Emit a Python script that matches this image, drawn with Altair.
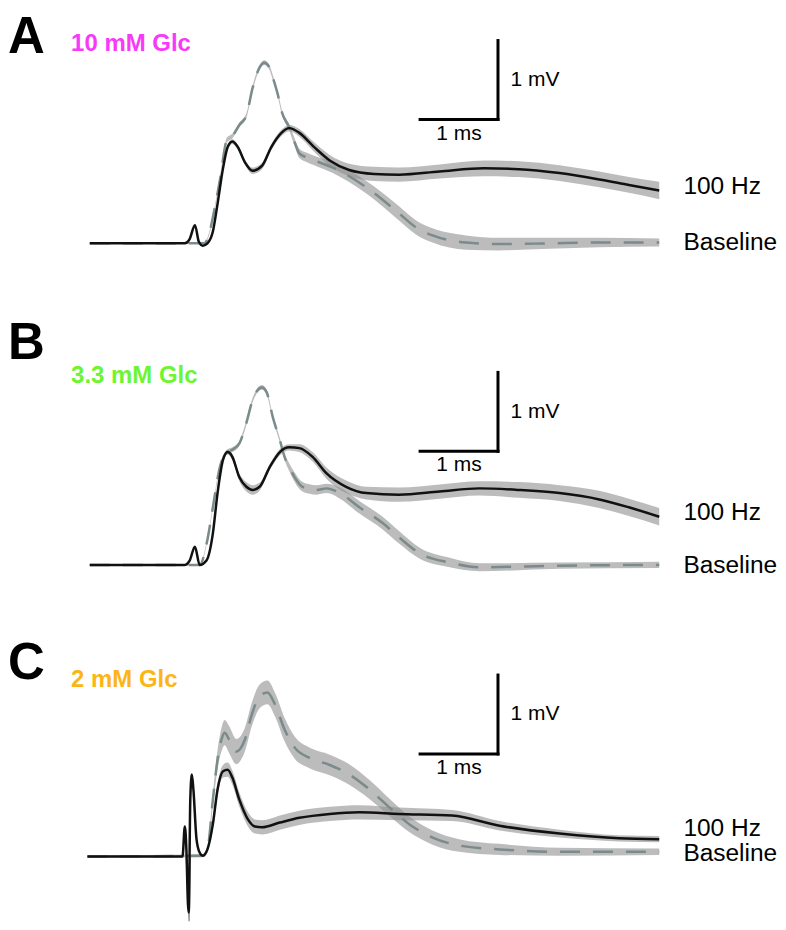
import altair as alt
import pandas as pd

# ---------------- data (time in ms, voltage in mV) ----------------
# Panel A : 10 mM Glc
tA_hz = [0, 1.22, 1.28, 1.35, 1.40, 1.45, 1.51, 1.58, 1.64, 1.71, 1.77, 1.83, 1.90, 1.99, 2.09, 2.21,
         2.33, 2.46, 2.56, 2.69, 2.88, 3.08, 3.33, 3.65, 3.97, 4.49, 5.06, 5.51, 6.03, 6.54, 6.92, 7.31]
vA_hz = [0, 0, 0.05, 0.23, 0.02, -0.03, 0.0, 0.15, 0.5, 0.95, 1.22, 1.29, 1.22, 1.03, 0.92, 0.98,
         1.22, 1.40, 1.46, 1.40, 1.22, 1.05, 0.93, 0.88, 0.87, 0.91, 0.95, 0.94, 0.89, 0.81, 0.74, 0.67]
sA_hz = [0.01, 0.01, 0.01, 0.01, 0.01, 0.01, 0.01, 0.02, 0.03, 0.03, 0.03, 0.03, 0.03, 0.03, 0.04, 0.04,
         0.04, 0.04, 0.04, 0.05, 0.06, 0.07, 0.08, 0.09, 0.09, 0.09, 0.10, 0.10, 0.10, 0.10, 0.10, 0.11]
tA_bl = [0, 1.40, 1.47, 1.54, 1.58, 1.67, 1.76, 1.83, 1.92, 2.01, 2.09, 2.18, 2.24, 2.30, 2.35, 2.41,
         2.47, 2.56, 2.63, 2.69, 2.78, 2.88, 3.12, 3.55, 3.97, 4.19, 4.40, 4.83, 5.26, 5.90, 6.54, 7.31]
vA_bl = [0, 0, 0, 0.15, 0.33, 0.80, 1.31, 1.36, 1.50, 1.62, 1.97, 2.23, 2.29, 2.24, 2.10, 1.90,
         1.65, 1.47, 1.28, 1.14, 1.09, 1.05, 0.96, 0.71, 0.38, 0.20, 0.10, 0.01, -0.01, 0.0, 0.01, 0.01]
sA_bl = [0.01, 0.01, 0.01, 0.02, 0.02, 0.03, 0.03, 0.03, 0.03, 0.03, 0.03, 0.03, 0.03, 0.03, 0.03, 0.03,
         0.03, 0.04, 0.05, 0.06, 0.06, 0.06, 0.07, 0.08, 0.09, 0.09, 0.09, 0.09, 0.08, 0.07, 0.06, 0.05]

# Panel B : 3.3 mM Glc
tB_hz = [0, 1.22, 1.28, 1.35, 1.41, 1.50, 1.58, 1.64, 1.71, 1.77, 1.83, 1.92, 2.01, 2.09, 2.18, 2.31,
         2.44, 2.56, 2.69, 2.86, 3.04, 3.29, 3.55, 3.97, 4.49, 5.00, 5.51, 6.03, 6.54, 6.92, 7.31]
vB_hz = [0, 0, 0.05, 0.23, 0.0, 0.06, 0.40, 0.91, 1.33, 1.43, 1.37, 1.11, 0.99, 0.95, 0.99, 1.24,
         1.43, 1.49, 1.48, 1.37, 1.16, 0.99, 0.91, 0.89, 0.93, 0.97, 0.95, 0.91, 0.83, 0.73, 0.61]
sB_hz = [0.01, 0.01, 0.01, 0.01, 0.01, 0.01, 0.02, 0.03, 0.03, 0.03, 0.04, 0.05, 0.06, 0.06, 0.05, 0.04,
         0.04, 0.04, 0.05, 0.06, 0.07, 0.08, 0.08, 0.09, 0.09, 0.09, 0.10, 0.10, 0.11, 0.11, 0.11]
tB_bl = [0, 1.41, 1.51, 1.58, 1.67, 1.76, 1.83, 1.92, 2.01, 2.09, 2.21, 2.27, 2.35, 2.44, 2.50,
         2.56, 2.63, 2.73, 2.91, 3.04, 3.21, 3.46, 3.76, 3.97, 4.23, 4.62, 5.00, 6.03, 7.31]
vB_bl = [0, 0, 0.32, 0.73, 1.24, 1.43, 1.46, 1.54, 1.80, 2.09, 2.25, 2.19, 1.87, 1.58, 1.37,
         1.24, 1.11, 0.99, 0.95, 0.97, 0.91, 0.73, 0.53, 0.35, 0.15, 0.03, -0.03, -0.01, 0.0]
sB_bl = [0.01, 0.01, 0.02, 0.02, 0.03, 0.03, 0.03, 0.03, 0.03, 0.03, 0.03, 0.03, 0.03, 0.03, 0.04,
         0.05, 0.06, 0.06, 0.06, 0.06, 0.07, 0.08, 0.08, 0.08, 0.07, 0.06, 0.05, 0.04, 0.04]

# Panel C : 2 mM Glc
tC_hz = [-0.03, 1.19, 1.22, 1.24, 1.26, 1.27, 1.29, 1.31, 1.33, 1.37, 1.41, 1.45, 1.51, 1.58, 1.64, 1.71,
         1.77, 1.83, 1.92, 2.03, 2.12, 2.21, 2.44, 2.69, 3.08, 3.46, 3.97, 4.65, 5.26, 6.03, 6.79, 7.31]
vC_hz = [0, 0, 0.38, 0.09, -0.6, -0.71, 0.72, 1.04, 0.85, 0.22, 0.05, 0.01, 0.09, 0.41, 0.85, 1.08,
         1.10, 1.00, 0.72, 0.47, 0.38, 0.37, 0.43, 0.49, 0.54, 0.56, 0.54, 0.52, 0.39, 0.29, 0.23, 0.22]
sC_hz = [0.01, 0.01, 0.01, 0.01, 0.01, 0.01, 0.01, 0.01, 0.01, 0.01, 0.01, 0.01, 0.03, 0.05, 0.07, 0.08,
         0.09, 0.09, 0.09, 0.09, 0.09, 0.09, 0.09, 0.09, 0.09, 0.09, 0.08, 0.07, 0.06, 0.05, 0.04, 0.04]
tC_bl = [-0.03, 1.45, 1.51, 1.58, 1.64, 1.69, 1.73, 1.79, 1.88, 1.99, 2.08, 2.18, 2.28, 2.38,
         2.50, 2.63, 2.82, 3.08, 3.33, 3.59, 3.85, 4.10, 4.40, 4.74, 5.26, 6.03, 7.31]
vC_bl = [0, 0.01, 0.09, 0.72, 1.23, 1.48, 1.57, 1.48, 1.33, 1.48, 1.80, 2.03, 2.08, 1.92,
         1.61, 1.38, 1.25, 1.16, 1.04, 0.85, 0.62, 0.41, 0.24, 0.14, 0.09, 0.06, 0.06]
sC_bl = [0.01, 0.02, 0.04, 0.08, 0.12, 0.15, 0.16, 0.17, 0.16, 0.15, 0.15, 0.15, 0.15, 0.15,
         0.15, 0.14, 0.13, 0.13, 0.13, 0.12, 0.11, 0.10, 0.09, 0.08, 0.07, 0.05, 0.04]
tC_art = [1.24, 1.26, 1.275, 1.29]
vC_art = [0.0, -0.5, -0.82, 0.0]

panel_letters = ["A", "B", "C"]
panel_titles = ["10 mM Glc", "3.3 mM Glc", "2 mM Glc"]
title_colors = ["#F83AF8", "#6CF531", "#FDB515"]
trace_labels = ["100 Hz", "Baseline"]
scale_bar_ms = 1
scale_bar_mv = 1

# ---------------- layout helpers ----------------
W = 770
X_DOMAIN = [-1.05, -1.05 + W / 78.0]
Y_DOMAINS = [[-0.949, 2.975], [-0.797, 3.127], [-0.823, 2.899]]
HEIGHTS = [310, 310, 294]
BAR_X = 4.24
BAR_Y = [1.57, 1.44, 1.30]
LETTER_Y = [2.92, 2.80, 2.44]
LETTER_BASE = ["top", "middle", "middle"]
TITLE_Y = [2.52, 2.39, 2.24]
LABEL_X = 7.62
LABEL_Y = [[0.71, 0.01], [0.66, -0.01], [0.35, 0.03]]

BAND = "#8f8f8f"
DASH = "#7b8a8a"
FONT = "Liberation Sans"

traces = [
    (tA_hz, vA_hz, sA_hz, tA_bl, vA_bl, sA_bl),
    (tB_hz, vB_hz, sB_hz, tB_bl, vB_bl, sB_bl),
    (tC_hz, vC_hz, sC_hz, tC_bl, vC_bl, sC_bl),
]


def frame(t, v, s):
    return pd.DataFrame({"t": t, "v": v,
                         "lo": [a - b for a, b in zip(v, s)],
                         "hi": [a + b for a, b in zip(v, s)]})


def panel(i):
    th, vh, sh, tb, vb, sb = traces[i]
    xs = alt.Scale(domain=X_DOMAIN)
    ys = alt.Scale(domain=Y_DOMAINS[i])
    X = lambda f: alt.X(f, type="quantitative", scale=xs, axis=None)
    Y = lambda f: alt.Y(f, type="quantitative", scale=ys, axis=None)

    hz = frame(th, vh, sh)
    bl = frame(tb, vb, sb)

    band_bl = alt.Chart(bl).mark_area(color=BAND, opacity=0.6, interpolate="monotone").encode(
        x=X("t"), y=Y("lo"), y2="hi")
    band_hz = alt.Chart(hz).mark_area(color=BAND, opacity=0.6, interpolate="monotone").encode(
        x=X("t"), y=Y("lo"), y2="hi")
    line_bl = alt.Chart(bl).mark_line(color=DASH, strokeWidth=2.5, strokeDash=[20, 13],
                                      interpolate="monotone").encode(x=X("t"), y=Y("v"))
    line_hz = alt.Chart(hz).mark_line(color="#111111", strokeWidth=2.5,
                                      interpolate="monotone").encode(x=X("t"), y=Y("v"))
    layers = [band_bl, band_hz, line_bl]
    if i == 2:
        art = pd.DataFrame({"t": tC_art, "v": vC_art})
        layers.append(alt.Chart(art).mark_line(color="#9a9a9a", strokeWidth=1.5).encode(
            x=X("t"), y=Y("v")))
    layers.append(line_hz)

    # scale bars
    sy = BAR_Y[i]
    bars = pd.DataFrame({
        "x": [BAR_X, BAR_X + scale_bar_ms],
        "x2": [BAR_X + scale_bar_ms, BAR_X + scale_bar_ms],
        "y": [sy, sy],
        "y2": [sy, sy + scale_bar_mv],
    })
    layers.append(alt.Chart(bars).mark_rule(color="black", strokeWidth=3, strokeCap="square").encode(
        x=X("x"), x2="x2", y=Y("y"), y2="y2"))

    mv_txt = pd.DataFrame({"x": [BAR_X + scale_bar_ms + 0.16], "y": [sy + scale_bar_mv / 2],
                           "label": ["1 mV"]})
    ms_txt = pd.DataFrame({"x": [BAR_X + scale_bar_ms / 2], "y": [sy - 0.18], "label": ["1 ms"]})
    layers.append(alt.Chart(mv_txt).mark_text(
        font=FONT, fontSize=21, align="left", baseline="middle", color="black").encode(
        x=X("x"), y=Y("y"), text="label:N"))
    layers.append(alt.Chart(ms_txt).mark_text(
        font=FONT, fontSize=21, align="center", baseline="middle", color="black").encode(
        x=X("x"), y=Y("y"), text="label:N"))

    lab = pd.DataFrame({"x": [LABEL_X, LABEL_X], "y": LABEL_Y[i], "label": trace_labels})
    layers.append(alt.Chart(lab).mark_text(
        font=FONT, fontSize=24.5, align="left", baseline="middle", color="black").encode(
        x=X("x"), y=Y("y"), text="label:N"))

    letter = pd.DataFrame({"x": [X_DOMAIN[0]], "y": [LETTER_Y[i]], "label": [panel_letters[i]]})
    layers.append(alt.Chart(letter).mark_text(
        font=FONT, fontSize=51, fontWeight="bold", align="left", baseline=LETTER_BASE[i],
        color="black").encode(x=X("x"), y=Y("y"), text="label:N"))

    title = pd.DataFrame({"x": [-0.24], "y": [TITLE_Y[i]], "label": [panel_titles[i]]})
    layers.append(alt.Chart(title).mark_text(
        font=FONT, fontSize=24, fontWeight="bold", align="left", baseline="middle",
        color=title_colors[i]).encode(x=X("x"), y=Y("y"), text="label:N"))

    return alt.layer(*layers).properties(width=W, height=HEIGHTS[i])


chart = alt.vconcat(panel(0), panel(1), panel(2), spacing=0, bounds="flush").configure_view(
    stroke=None).properties(padding=0)

chart.save("out.html", embed_options={"renderer": "svg", "actions": False})
